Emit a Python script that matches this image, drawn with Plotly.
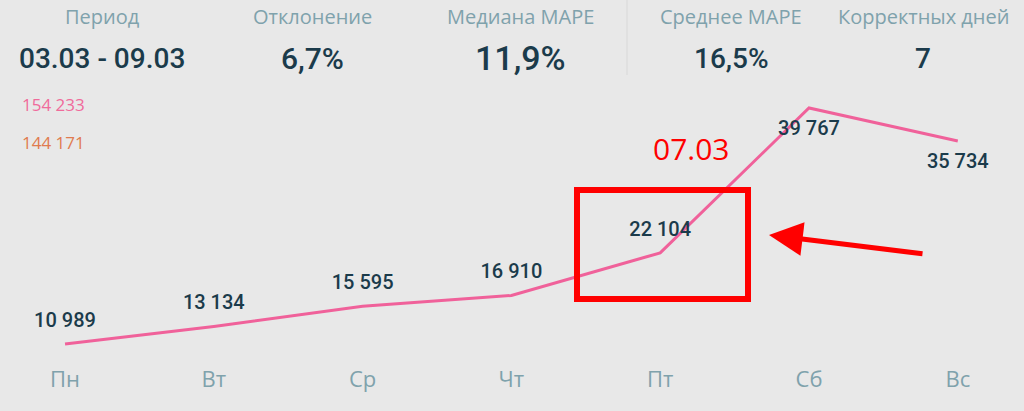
import plotly.graph_objects as go

# данные графика
days = ["Пн", "Вт", "Ср", "Чт", "Пт", "Сб", "Вс"]
sales = [10989, 13134, 15595, 16910, 22104, 39767, 35734]
label_pos = ["top center"] * 5 + ["bottom center"] * 2

kpi_titles = ["Период", "Отклонение", "Медиана MAPE", "Среднее MAPE", "Корректных дней"]
kpi_values = ["03.03 - 09.03", "6,7%", "11,9%", "16,5%", "7"]
total_fact = "154 233"
total_plan = "144 171"
marked_day = "07.03"

W, H = 1024, 411
BOTTOM = 50
PLOT_H = H - BOTTOM
BG = "#e8e8e8"
PINK = "#f0619a"
DARK = "#1b3b4b"
MUTED = "#7fa2ac"


def px(x):
    return x / W


def py(y):
    return 1 - y / PLOT_H


def fmt(v):
    return f"{v:,}".replace(",", " ")


fig = go.Figure()
fig.add_trace(go.Scatter(
    x=days, y=sales,
    mode="lines+markers+text",
    line=dict(color=PINK, width=3),
    marker=dict(size=18, color="rgba(0,0,0,0)"),
    text=[fmt(v) for v in sales],
    textposition=label_pos,
    textfont=dict(family="Roboto", size=20, color=DARK, weight=500),
    hoverinfo="skip",
    showlegend=False,
))

# шапка с KPI
kpi_x = [102, 312, 520, 731, 923]
value_sizes = [28, 30, 34, 28, 28]
annotations = []
for cx, title, val, fs in zip(kpi_x, kpi_titles, kpi_values, value_sizes):
    annotations.append(dict(x=px(cx), y=py(17), xref="paper", yref="paper",
                            text=title, showarrow=False, xanchor="center", yanchor="middle",
                            font=dict(family="Open Sans", size=20, color=MUTED)))
    annotations.append(dict(x=px(cx), y=py(58), xref="paper", yref="paper",
                            text=val, showarrow=False, xanchor="center", yanchor="middle",
                            font=dict(family="Roboto", size=fs, color=DARK, weight=500)))

annotations += [
    dict(x=px(20), y=py(104), xref="paper", yref="paper", text=total_fact,
         showarrow=False, xanchor="left", yanchor="middle",
         font=dict(family="Open Sans", size=17, color="#f06b9b")),
    dict(x=px(20), y=py(142), xref="paper", yref="paper", text=total_plan,
         showarrow=False, xanchor="left", yanchor="middle",
         font=dict(family="Open Sans", size=17, color="#e07b4f")),
    dict(x=px(691), y=py(148), xref="paper", yref="paper", text=marked_day,
         showarrow=False, xanchor="center", yanchor="middle",
         font=dict(family="Open Sans", size=30, color="#ff0000")),
    # красная стрелка
    dict(x=px(769), y=py(235), xref="paper", yref="paper", text="",
         showarrow=True, ax=155, ay=19, arrowcolor="#ff0000",
         arrowwidth=5, arrowhead=2, arrowsize=1.35),
]

shapes = [
    dict(type="rect", xref="paper", yref="paper",
         x0=px(577), x1=px(748), y0=py(190), y1=py(299),
         line=dict(color="#ff0000", width=6)),
    dict(type="line", xref="paper", yref="paper",
         x0=px(627), x1=px(627), y0=py(0), y1=py(75),
         line=dict(color="#d8d8d8", width=1)),
]

fig.update_layout(
    width=W, height=H,
    margin=dict(l=0, r=0, t=0, b=BOTTOM),
    paper_bgcolor=BG, plot_bgcolor=BG,
    xaxis=dict(range=[-0.437, 6.445], showgrid=False, zeroline=False, showline=False,
               ticks="", ticklabelstandoff=3,
               tickfont=dict(family="Open Sans", size=22, color=MUTED)),
    yaxis=dict(range=[8914, 52933], visible=False),
    annotations=annotations,
    shapes=shapes,
)

# убрать отступы страницы, чтобы график лёг ровно в окно
fig.write_html("out.html", config={"displayModeBar": False},
               post_script="document.body.style.margin='0';"
                           "document.body.style.background='#e8e8e8';")
